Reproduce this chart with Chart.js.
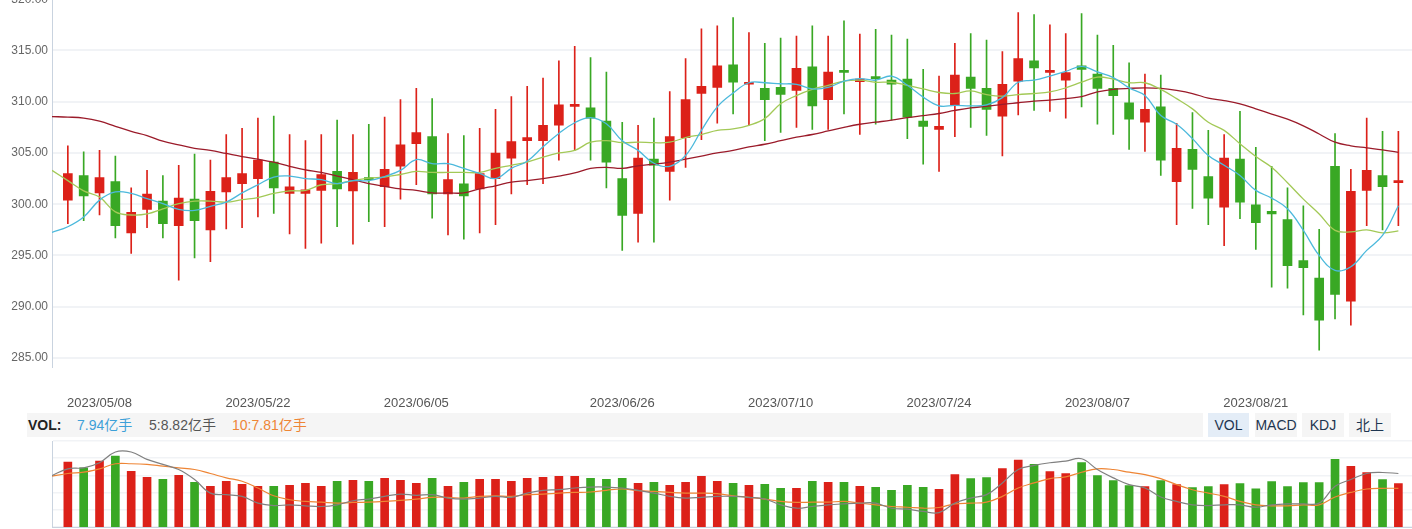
<!DOCTYPE html>
<html>
<head>
<meta charset="utf-8">
<script src="https://cdn.jsdelivr.net/npm/chart.js@4.4.0/dist/chart.umd.min.js"></script>
<style>
  body { margin: 0; width: 1412px; height: 529px; overflow: hidden; background: #fff; position: relative;
         font-family: "Liberation Sans", "Noto Sans CJK SC", sans-serif; }
  #mainBox { position: absolute; left: 0; top: -12px; width: 1412px; height: 424px; }
  #volBox { position: absolute; left: 0; top: 440px; width: 1412px; height: 89px; }
  .strip { position: absolute; left: 27px; top: 413px; width: 1176px; height: 24px; background: #f5f5f5; }
  .lbl { position: absolute; top: 413px; height: 24px; line-height: 24px; font-size: 14px; white-space: nowrap; }
  .btn { position: absolute; top: 413px; height: 24px; line-height: 24px; font-size: 14px; text-align: center;
         background: #f5f5f5; color: #1d3550; }
</style>
</head>
<body>
<div id="mainBox"><canvas id="main" width="1412" height="424"></canvas></div>
<div class="strip"></div>
<div class="lbl" style="left:28px; font-weight:bold; color:#222;">VOL:</div>
<div class="lbl" style="left:77px; color:#3da0d8;">7.94亿手</div>
<div class="lbl" style="left:149px; color:#555;">5:8.82亿手</div>
<div class="lbl" style="left:232px; color:#ee8535;">10:7.81亿手</div>
<div class="btn" style="left:1208px; width:41px; background:#e4edf7;">VOL</div>
<div class="btn" style="left:1255px; width:42px;">MACD</div>
<div class="btn" style="left:1302px; width:42px;">KDJ</div>
<div class="btn" style="left:1349px; width:42px;">北上</div>
<div id="volBox"><canvas id="vol" width="1412" height="89"></canvas></div>
<script>
// trading days, first one sits on the left edge (only the averages reach it)
const dates = [
  "2023/04/28",
  "2023/05/04","2023/05/05","2023/05/08","2023/05/09","2023/05/10","2023/05/11","2023/05/12","2023/05/15","2023/05/16","2023/05/17",
  "2023/05/18","2023/05/19","2023/05/22","2023/05/23","2023/05/24","2023/05/25","2023/05/26","2023/05/29","2023/05/30","2023/05/31",
  "2023/06/01","2023/06/02","2023/06/05","2023/06/06","2023/06/07","2023/06/08","2023/06/09","2023/06/12","2023/06/13","2023/06/14",
  "2023/06/15","2023/06/16","2023/06/19","2023/06/20","2023/06/21","2023/06/26","2023/06/27","2023/06/28","2023/06/29","2023/06/30",
  "2023/07/03","2023/07/04","2023/07/05","2023/07/06","2023/07/07","2023/07/10","2023/07/11","2023/07/12","2023/07/13","2023/07/14",
  "2023/07/17","2023/07/18","2023/07/19","2023/07/20","2023/07/21","2023/07/24","2023/07/25","2023/07/26","2023/07/27","2023/07/28",
  "2023/07/31","2023/08/01","2023/08/02","2023/08/03","2023/08/04","2023/08/07","2023/08/08","2023/08/09","2023/08/10","2023/08/11",
  "2023/08/14","2023/08/15","2023/08/16","2023/08/17","2023/08/18","2023/08/21","2023/08/22","2023/08/23","2023/08/24","2023/08/25",
  "2023/08/28","2023/08/29","2023/08/30","2023/08/31","2023/09/01"
];
const tickDates = ["2023/05/08","2023/05/22","2023/06/05","2023/06/26","2023/07/10","2023/07/24","2023/08/07","2023/08/21"];
const priceTicks = [285, 290, 295, 300, 305, 310, 315, 320];

const openP = [
  300.4,302.8,301.1,302.2,297.2,299.5,300.3,297.9,300.5,297.5,
  301.2,302.0,302.5,304.1,301.05,301.05,301.35,303.2,301.3,302.6,
  301.7,303.7,305.9,306.6,301.0,302.0,301.5,302.5,304.5,306.2,
  306.2,307.7,309.55,309.4,308.1,302.5,299.1,304.4,303.2,306.5,
  310.8,311.4,313.6,311.7,311.3,311.4,311.1,313.4,310.2,313.05,
  311.95,312.4,312.1,312.2,308.1,307.3,309.7,312.4,311.3,308.6,
  312.0,314.0,312.85,312.1,313.5,312.7,311.3,309.9,308.0,309.5,
  302.2,305.35,302.7,299.7,304.4,299.95,299.3,298.5,294.5,292.8,
  303.7,290.55,301.35,302.8,302.1
];
const closeP = [
  303.0,300.8,302.6,297.9,299.2,301.0,298.1,300.6,298.4,301.25,
  302.6,303.0,304.3,301.6,301.7,301.4,302.9,301.5,303.1,302.4,
  303.4,305.8,307.0,301.0,302.4,300.8,303.0,305.0,306.1,306.5,
  307.7,309.7,309.7,308.4,304.1,298.9,304.5,303.8,306.6,310.2,
  311.5,313.5,311.9,311.85,310.2,310.7,313.25,309.6,312.9,312.85,
  312.2,312.25,311.7,308.5,307.6,307.6,312.6,311.3,309.25,311.7,
  314.2,313.3,313.05,312.85,313.15,311.3,310.6,308.3,309.25,304.3,
  305.45,303.4,300.6,304.5,300.2,298.2,299.05,294.0,293.8,288.7,
  291.2,301.25,303.3,301.7,302.3
];
const highP = [
  305.7,305.1,305.25,304.7,301.6,303.3,302.8,303.8,304.9,304.3,
  306.8,307.4,308.4,308.6,306.8,306.2,306.8,308.2,306.8,307.8,
  308.5,310.2,311.3,310.3,306.9,306.7,307.4,309.25,310.5,311.5,
  312.3,314.0,315.4,314.3,312.9,308.0,307.7,308.4,311.0,314.2,
  317.1,317.4,318.2,316.75,315.7,316.2,316.4,317.4,316.4,317.9,
  316.6,317.05,316.5,316.1,313.15,312.5,315.7,316.65,316.0,314.9,
  318.7,318.5,317.5,316.65,318.6,316.5,315.5,313.8,312.7,312.6,
  307.9,308.95,307.2,306.8,309.05,305.55,303.7,301.6,299.85,297.55,
  306.9,303.4,308.4,307.1,307.1
];
const lowP = [
  298.1,298.4,298.95,296.7,295.2,297.7,296.7,292.6,294.75,294.4,
  297.6,297.7,298.75,299.1,297.1,295.7,296.2,297.8,296.1,298.3,
  297.8,300.5,301.9,298.65,297.0,296.6,297.2,298.0,301.0,301.9,
  302.0,304.3,305.25,304.3,301.6,295.5,296.3,296.3,300.4,303.6,
  306.3,307.9,308.8,307.7,306.2,307.0,307.5,307.3,307.3,308.8,
  306.8,307.8,308.2,306.4,303.9,303.2,306.6,307.5,306.7,304.7,
  308.7,309.15,309.05,308.4,309.5,307.8,306.8,305.35,305.15,302.8,
  298.0,299.6,298.0,295.95,298.6,295.6,291.9,291.8,289.2,285.75,
  288.8,288.2,297.9,297.5,297.9
];

// moving averages as drawn, starting one day before the first candle
const ma5 = [
  297.25,297.8,298.75,300.4,301.2,301.05,300.55,300.05,299.5,299.4,299.8,300.2,301.1,301.9,302.65,302.75,302.5,302.4,302.0,302.3,
  302.3,302.7,303.3,304.35,303.95,303.95,303.5,303.0,302.5,303.5,304.2,305.6,306.9,307.95,308.45,307.85,306.2,305.25,304.0,303.7,
  304.75,307.2,309.5,310.85,311.85,311.85,311.75,311.7,311.25,311.4,312.0,312.25,312.1,312.5,311.6,310.45,309.6,309.65,309.6,309.7,
  310.4,311.9,312.1,312.5,312.95,313.45,312.9,312.35,311.35,310.6,308.65,307.8,306.4,304.75,303.8,302.8,301.35,300.6,299.55,297.45,
  295.0,293.55,293.9,295.5,296.95,299.85
];
const ma20 = [
  303.3,302.3,301.3,300.7,299.25,298.95,299.05,299.55,300.05,300.3,300.3,300.2,300.45,300.65,301.05,301.3,301.35,301.9,302.0,302.3,
  302.55,302.65,302.9,303.2,303.1,303.1,303.1,303.1,303.5,303.8,304.1,304.6,305.0,305.25,306.05,306.2,306.0,306.05,306.0,306.05,
  306.5,306.8,307.2,307.35,307.7,308.35,309.8,310.6,311.2,311.6,312.0,312.1,311.9,311.9,311.6,311.25,310.9,310.8,311.05,310.7,
  310.55,310.7,310.8,310.95,311.35,311.9,312.4,312.2,311.85,311.85,311.2,310.3,309.3,308.0,307.2,305.9,304.65,303.6,302.1,300.5,
  299.05,297.45,297.3,297.5,297.2,297.4
];
const ma60 = [
  308.55,308.5,308.4,308.1,307.6,307.1,306.7,306.15,305.8,305.45,305.25,304.95,304.65,304.4,304.1,303.7,303.35,303.1,302.75,302.4,
  302.0,301.75,301.5,301.35,301.1,301.1,301.1,301.5,301.8,302.15,302.3,302.5,302.75,303.05,303.5,303.6,303.5,303.75,303.9,304.1,
  304.4,304.7,305.0,305.25,305.6,305.85,306.2,306.55,306.8,307.15,307.5,307.8,308.0,308.2,308.45,308.65,308.85,309.15,309.4,309.55,
  309.75,309.9,310.05,310.15,310.3,310.5,310.95,311.2,311.3,311.35,311.3,311.1,310.8,310.35,310.1,309.8,309.3,308.8,308.3,307.65,
  306.85,306.05,305.7,305.5,305.3,305.05
];

// volume, 亿手
const volume = [
  9.46,9.06,9.53,9.89,8.82,8.39,8.25,8.53,8.03,7.75,
  8.11,7.89,7.75,7.75,7.82,7.96,7.75,8.11,8.18,8.11,
  8.32,8.18,7.96,8.32,7.75,8.03,8.25,8.25,8.11,8.32,
  8.39,8.46,8.46,8.32,8.25,8.32,7.96,8.03,7.82,8.03,
  8.46,8.11,7.96,7.82,7.89,7.61,7.61,8.11,8.03,8.03,
  7.75,7.68,7.46,7.82,7.68,7.53,8.58,8.30,8.37,9.01,
  9.61,9.30,8.80,8.66,9.44,8.51,8.16,7.80,7.73,8.16,
  7.87,7.66,7.73,7.87,7.94,7.58,8.08,7.73,8.01,8.01,
  9.66,9.16,8.73,8.23,7.94
];
const volMa5 = [
  8.51,8.99,9.06,9.42,10.18,10.18,9.66,9.30,8.94,8.23,7.27,7.16,7.04,6.56,6.39,6.44,6.37,6.32,6.44,6.73,
  6.85,7.04,7.20,7.11,7.16,6.92,6.85,6.92,7.04,6.97,7.27,7.47,7.51,7.63,7.70,7.70,7.63,7.47,7.27,7.04,
  6.92,6.97,7.04,7.04,6.97,6.85,6.44,6.20,6.32,6.44,6.51,6.56,6.56,6.20,6.13,5.97,5.89,6.56,6.92,7.16,
  7.99,8.94,9.23,9.42,9.54,9.70,8.94,8.35,7.87,7.63,6.99,6.68,6.44,6.39,6.44,6.44,6.27,6.44,6.51,6.51,
  6.56,7.75,8.23,8.66,8.73,8.66
];
const volMa10 = [
  8.47,8.66,8.75,8.99,9.35,9.35,9.30,9.18,9.06,8.94,8.66,8.35,8.11,7.63,7.08,6.80,6.68,6.63,6.56,6.61,
  6.63,6.68,6.75,6.85,6.97,6.97,6.92,7.04,7.08,7.04,7.16,7.20,7.27,7.32,7.35,7.47,7.56,7.44,7.39,7.32,
  7.27,7.27,7.23,7.08,6.97,6.85,6.68,6.61,6.63,6.63,6.68,6.56,6.44,6.32,6.27,6.20,6.25,6.51,6.56,6.63,
  7.04,7.63,7.99,8.30,8.42,8.75,8.99,8.94,8.75,8.58,8.30,7.87,7.51,7.27,7.04,6.68,6.44,6.37,6.37,6.44,
  6.44,6.99,7.32,7.56,7.61,7.61
];

const RED = "#dc2119";
const GREEN = "#39a824";
const AXIS = "#c9d3df";
const GRID = "#f1f3f6";

Chart.defaults.font.family = '"Liberation Sans", Arial, sans-serif';

const days = openP.map((_, i) => i);
const candleColors = days.map((i) => (closeP[i] >= openP[i] ? RED : GREEN));
const asLine = (arr) => arr.map((v, i) => ({ x: i - 1, y: v }));

const lineSet = (arr, color) => ({
	type: "line",
	data: asLine(arr),
	borderColor: color,
	borderWidth: 1.3,
	pointRadius: 0,
	tension: 0.4,
	order: 0,
});

const xOpts = {
	type: "linear",
	min: -1,
	max: 84.86,
	offset: false,
	grid: { display: false, drawTicks: false },
};

new Chart(document.getElementById("main"), {
	type: "bar",
	data: {
		datasets: [
			lineSet(ma5, "#4cb9dc"),
			lineSet(ma20, "#a3c957"),
			lineSet(ma60, "#9b1b2a"),
			{
				data: days.map((i) => ({ x: i, y: [lowP[i], highP[i]] })),
				backgroundColor: candleColors,
				barThickness: 1,
				grouped: false,
				order: 2,
			},
			{
				data: days.map((i) => ({ x: i, y: [openP[i], closeP[i]] })),
				backgroundColor: candleColors,
				barThickness: 9,
				minBarLength: 2,
				grouped: false,
				order: 1,
			},
		],
	},
	options: {
		responsive: false,
		animation: false,
		events: [],
		layout: { padding: 0 },
		plugins: { legend: { display: false }, tooltip: { enabled: false } },
		scales: {
			x: {
				...xOpts,
				border: { display: false },
				afterBuildTicks: (s) => {
					s.ticks = tickDates.map((d) => ({ value: dates.indexOf(d) - 1 }));
				},
				afterFit: (s) => {
					s.height = 45;
				},
				ticks: {
					autoSkip: false,
					maxRotation: 0,
					padding: 29,
					color: "#555",
					font: { size: 13 },
					callback: (v) => dates[v + 1],
				},
			},
			y: {
				min: 284.12,
				max: 320,
				afterBuildTicks: (s) => {
					s.ticks = priceTicks.map((v) => ({ value: v }));
				},
				afterFit: (s) => {
					s.width = 52;
				},
				grid: { color: GRID, lineWidth: 2, drawTicks: false },
				border: { color: AXIS },
				ticks: {
					padding: 4,
					color: "#666",
					font: { size: 12 },
					callback: (v) => v.toFixed(2),
				},
			},
		},
	},
});

new Chart(document.getElementById("vol"), {
	type: "bar",
	data: {
		datasets: [
			{ ...lineSet(volMa5, "#808080"), borderWidth: 1.2 },
			{ ...lineSet(volMa10, "#ee8535"), borderWidth: 1.2 },
			{
				data: days.map((i) => ({ x: i, y: volume[i] })),
				backgroundColor: candleColors,
				barThickness: 8,
				grouped: false,
				order: 1,
			},
		],
	},
	options: {
		responsive: false,
		animation: false,
		events: [],
		layout: { padding: { top: 1, bottom: 2 } },
		plugins: { legend: { display: false }, tooltip: { enabled: false } },
		scales: {
			x: {
				...xOpts,
				border: { color: AXIS },
				ticks: { display: false },
			},
			y: {
				min: 4.87,
				max: 10.96,
				afterFit: (s) => {
					s.width = 52;
				},
				grid: { color: GRID, lineWidth: 1.5, drawTicks: false },
				border: { color: AXIS },
				ticks: { display: false, count: 6 },
			},
		},
	},
});
</script>
</body>
</html>
